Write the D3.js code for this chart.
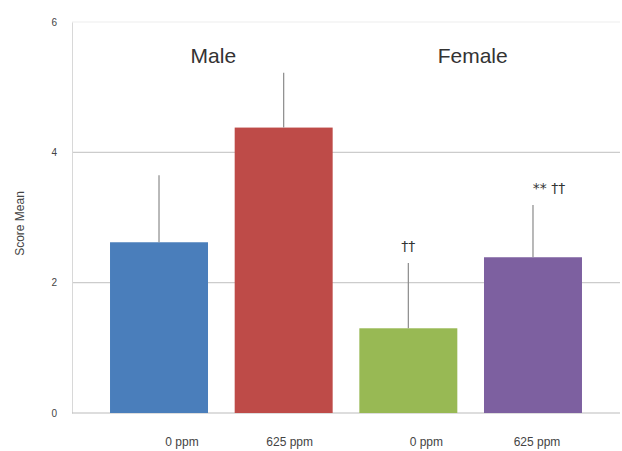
<!DOCTYPE html>
<html><head><meta charset="utf-8">
<script src="https://cdn.jsdelivr.net/npm/d3@7"></script>
<style>body{margin:0;background:#fff}svg{display:block}</style>
</head><body>
<svg id="c" width="622" height="451"></svg>
<script>
const categories = ["M0", "M625", "F0", "F625"];
const tickLabels = ["0 ppm", "625 ppm", "0 ppm", "625 ppm"];
const means = [2.62, 4.38, 1.30, 2.39];
const errTops = [3.65, 5.22, 2.30, 3.19];
const colors = ["#4a7ebb", "#be4b48", "#98b954", "#7d60a0"];
const groupLabels = ["Male", "Female"];
const marks = ["", "", "††", "** ††"];
const yTicks = [0, 2, 4, 6];

// layout nudges (style only)
const labelNudge = [23, 6, 18, 4];
const groupNudge = [-8, 2];
const markNudge = [0, 0, 0, 16];
const FONT = "Liberation Sans, Arial, sans-serif";

const svg = d3.select("#c");
const x = d3.scaleBand().domain(categories).range([72, 620]).paddingInner(0.214).paddingOuter(0.305);
const y = d3.scaleLinear().domain([0, 6]).range([413, 22]);

// gridlines
svg.append("g").selectAll("line").data(yTicks.slice(1)).join("line")
  .attr("x1", 72).attr("x2", 620)
  .attr("y1", d => y(d)).attr("y2", d => y(d))
  .attr("stroke", d => d === 6 ? "#eeeeee" : "#cccccc").attr("stroke-width", 1.2);

// y axis
const yAxis = svg.append("g").attr("transform", "translate(72,0)")
  .call(d3.axisLeft(y).tickValues(yTicks).tickFormat(d3.format("d")).tickSize(0).tickPadding(15));
yAxis.select(".domain").attr("stroke", "#d8d8d8");
yAxis.selectAll("text").attr("font-family", FONT).attr("font-size", 10).attr("fill", "#444");

// baseline
svg.append("line").attr("x1", 72).attr("x2", 620).attr("y1", y(0)).attr("y2", y(0))
  .attr("stroke", "#bbbbbb").attr("stroke-width", 1.2);

// bars
svg.append("g").selectAll("rect").data(categories).join("rect")
  .attr("x", d => x(d)).attr("width", x.bandwidth())
  .attr("y", (d, i) => y(means[i])).attr("height", (d, i) => y(0) - y(means[i]))
  .attr("fill", (d, i) => colors[i]);

// error bars
svg.append("g").selectAll("line").data(categories).join("line")
  .attr("x1", d => x(d) + x.bandwidth() / 2).attr("x2", d => x(d) + x.bandwidth() / 2)
  .attr("y1", (d, i) => y(means[i])).attr("y2", (d, i) => y(errTops[i]))
  .attr("stroke", "#8a8a8a").attr("stroke-width", 1.2);

// significance marks
svg.append("g").selectAll("text").data(categories).join("text")
  .attr("x", (d, i) => x(d) + x.bandwidth() / 2 + markNudge[i])
  .attr("y", (d, i) => y(errTops[i]) - 12)
  .attr("text-anchor", "middle")
  .attr("font-family", "DejaVu Sans, sans-serif").attr("font-size", 14)
  .attr("fill", "#333")
  .text((d, i) => marks[i]);

// x axis labels
const xAxis = svg.append("g").attr("transform", `translate(0,${y(0)})`)
  .call(d3.axisBottom(x).tickFormat((d, i) => tickLabels[i]).tickSize(0).tickPadding(24));
xAxis.select(".domain").remove();
xAxis.selectAll("text").attr("font-family", FONT).attr("font-size", 12).attr("fill", "#444")
  .attr("dx", (d, i) => labelNudge[i]);

// group labels
const groupCenters = [
  (x(categories[0]) + x(categories[1]) + x.bandwidth()) / 2,
  (x(categories[2]) + x(categories[3]) + x.bandwidth()) / 2
];
svg.append("g").selectAll("text").data(groupLabels).join("text")
  .attr("x", (d, i) => groupCenters[i] + groupNudge[i]).attr("y", 63)
  .attr("text-anchor", "middle")
  .attr("font-family", FONT).attr("font-size", 21)
  .attr("fill", "#333").text(d => d);

// axis title
svg.append("text").attr("transform", `translate(24,${(y(0) + y(6)) / 2 + 6}) rotate(-90)`)
  .attr("text-anchor", "middle")
  .attr("font-family", FONT).attr("font-size", 12)
  .attr("fill", "#444").text("Score Mean");
</script>
</body></html>
